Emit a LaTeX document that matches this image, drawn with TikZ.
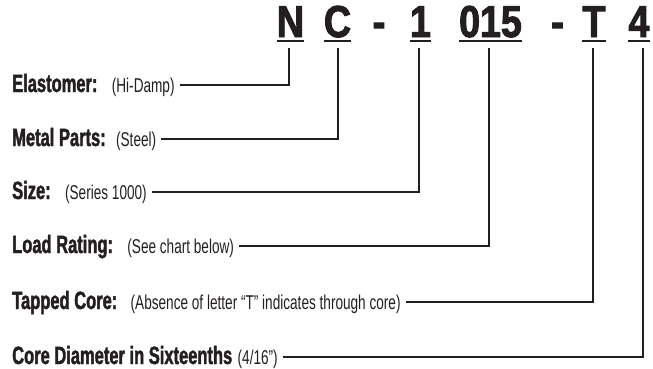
\documentclass[tikz,border=0pt]{standalone}
\usepackage{fontspec}
\usepackage{xcolor}
\usetikzlibrary{positioning}
\newfontfamily\partfont[FakeStretch=0.68]{Liberation Sans}
\newfontfamily\heavyfont[FakeStretch=0.66,FakeBold=1.6]{Liberation Sans}
\newfontfamily\codefont[FakeStretch=0.84,FakeBold=2.2]{Liberation Sans}
\definecolor{ink}{HTML}{231F20}
\tikzset{
  code/.style={font=\codefont\bfseries\fontsize{44.7}{48}\selectfont, inner sep=0pt, anchor=base, text=ink},
  lbl/.style={font=\heavyfont\bfseries\fontsize{25}{28}\selectfont, inner sep=0pt, anchor=base west, text=ink},
  note/.style={font=\partfont\fontsize{20}{22}\selectfont, inner sep=0pt, anchor=base west, text=ink},
  uline/.style={draw=ink, line width=2pt},
  link/.style={draw=ink, line width=1.8pt},
}
\begin{document}
\begin{tikzpicture}[x=1pt, y=-1pt]
\useasboundingbox (0,0) rectangle (653,368);
% part number
\foreach \nm/\x/\txt in {N/290.5/N, C/337.5/C, d1/379/-, one/420.5/1, num/490.5/015, d2/557.5/-, T/594/T, four/639/4}
  \node[code] (c\nm) at (\x,37) {\txt};
\foreach \nm in {N, C, one, num, T, four}
  \draw[uline] ([yshift=-4pt]c\nm.base west) -- ([yshift=-4pt]c\nm.base east);
% descriptions
\foreach \nm/\y/\lbl/\gap/\note/\tgt/\dx in {
    elast/92/Elastomer:/14/(Hi-Damp)/N/-1.5,
    metal/146/Metal Parts:/10/(Steel)/C/0.5,
    size/199/Size:/14/(Series 1000)/one/-1.5,
    load/253/Load Rating:/14/(See chart below)/num/-1.5,
    tap/309/Tapped Core:/13/(Absence of letter “T” indicates through core)/T/-1,
    core/364/Core Diameter in Sixteenths/5/{(4/16”)}/four/4} {
  \node[lbl] (l\nm) at (12,\y) {\lbl};
  \node[note] (n\nm) at ([xshift=\gap pt]l\nm.base east) {\note};
  \draw[link] ([shift={(5pt,7pt)}]n\nm.base east) -| ([shift={(\dx pt,-11pt)}]c\tgt.base);
}
\end{tikzpicture}
\end{document}
